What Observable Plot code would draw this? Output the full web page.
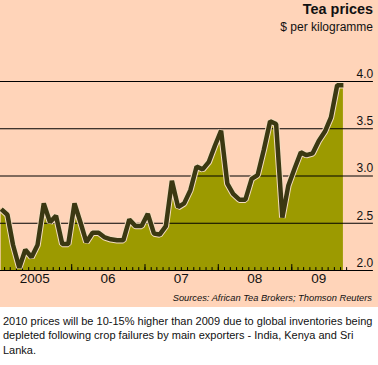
<!DOCTYPE html>
<html>
<head>
<meta charset="utf-8">
<script src="https://cdn.jsdelivr.net/npm/d3@7"></script>
<script src="https://cdn.jsdelivr.net/npm/@observablehq/plot@0.6"></script>
<style>
  html, body { margin: 0; padding: 0; background: #ffffff; }
  body { width: 378px; height: 365px; overflow: hidden; font-family: "Liberation Sans", Arial, sans-serif; }
  #panel { position: relative; width: 378px; height: 307px; background: #ffd4b9; }
  #title { position: absolute; right: 5px; top: 1px; font-weight: bold; font-size: 14.4px; color: #111; line-height: 17px; }
  #subtitle { position: absolute; right: 5px; top: 20px; font-size: 12px; color: #111; line-height: 15px; }
  #source { position: absolute; right: 6px; top: 292px; font-size: 9.3px; font-style: italic; color: #111; line-height: 12px; }
  #chart { position: absolute; left: 0; top: 0; }
  #caption { margin: 0; padding: 7px 4px 0 3px; font-size: 11px; line-height: 14.3px; color: #111; }
</style>
</head>
<body>
<div id="panel">
  <div id="chart"></div>
  <div id="title">Tea prices</div>
  <div id="subtitle">$ per kilogramme</div>
  <div id="source">Sources: African Tea Brokers; Thomson Reuters</div>
</div>
<div id="caption">2010 prices will be 10-15% higher than 2009 due to global inventories being depleted following crop failures by main exporters - India, Kenya and Sri Lanka.</div>
<script>
// Monthly tea prices ($/kg), Jan 2005 .. Sep 2009
const startYear = 2005;
const prices = [
  2.65, 2.59, 2.27, 2.03, 2.22, 2.14, 2.27, 2.71, 2.51, 2.58, 2.28, 2.28,
  2.71, 2.50, 2.30, 2.40, 2.40, 2.35, 2.33, 2.32, 2.32, 2.54, 2.47, 2.47,
  2.60, 2.39, 2.38, 2.47, 2.95, 2.67, 2.71, 2.85, 3.10, 3.07, 3.15, 3.32,
  3.48, 2.92, 2.81, 2.75, 2.75, 2.97, 3.01, 3.28, 3.58, 3.55, 2.56, 2.90,
  3.08, 3.25, 3.22, 3.24, 3.37, 3.47, 3.62, 3.96, 3.96
];
const yTicks = [2.0, 2.5, 3.0, 3.5, 4.0];
const yearLabels = ["2005", "06", "07", "08", "09"];
const yearLabelDates = ["2005-07-01", "2006-07-01", "2007-07-01", "2008-07-01", "2009-05-15"];

const data = prices.map((v, i) => ({date: new Date(Date.UTC(startYear, i, 15)), price: v}));
const first = data[0].date, last = data[data.length - 1].date;
const minorTicks = d3.utcMonth.range(new Date(Date.UTC(startYear, 1, 1)), new Date(Date.UTC(2009, 9, 2)));
const majorTicks = d3.utcYear.range(new Date(Date.UTC(startYear, 0, 2)), last);
const labels = yearLabels.map((t, i) => ({date: new Date(yearLabelDates[i]), label: t}));

// upward tick shape for vector marks
const tickUp = {draw(context, l) { context.moveTo(0, 0); context.lineTo(0, -l); }};

const chart = Plot.plot({
  width: 378,
  height: 307,
  marginLeft: 0.7,
  marginRight: 35.1,
  marginTop: 81,
  marginBottom: 37,
  style: {background: "transparent", fontFamily: "'Liberation Sans', Arial, sans-serif", color: "#111"},
  x: {type: "utc", domain: [first, last], axis: null, label: null},
  y: {domain: [yTicks[0], yTicks[yTicks.length - 1]], axis: null, label: null},
  marks: [
    Plot.areaY(data, {x: "date", y1: yTicks[0], y2: "price", fill: "#9c9a00", curve: "linear"}),
    Plot.gridY(yTicks, {stroke: "#000", strokeOpacity: 1, strokeWidth: 1, insetLeft: -1, insetRight: -30}),
    Plot.vectorX(minorTicks, {x: d => d, frameAnchor: "bottom", length: 3, rotate: 0, anchor: "start", shape: tickUp, stroke: "#000", strokeWidth: 1}),
    Plot.vectorX(majorTicks, {x: d => d, frameAnchor: "bottom", length: 6, rotate: 0, anchor: "start", shape: tickUp, stroke: "#000", strokeWidth: 1}),
    Plot.line(data, {x: "date", y: "price", stroke: "#f4dcc0", strokeWidth: 6.5, strokeLinejoin: "miter", strokeLinecap: "butt"}),
    Plot.line(data, {x: "date", y: "price", stroke: "#3b3812", strokeWidth: 4.5, strokeLinejoin: "miter", strokeLinecap: "butt"}),
    Plot.axisY(yTicks, {anchor: "right", label: null, tickSize: 0, tickPadding: 0, textAnchor: "end", dx: 29.8, dy: -7.5, fontSize: 12, fill: "#111"}),
    Plot.text(labels, {x: "date", text: "label", frameAnchor: "bottom", dy: 12, fontSize: 13.5, fill: "#111"})
  ]
});
document.getElementById("chart").appendChild(chart);
</script>
</body>
</html>
